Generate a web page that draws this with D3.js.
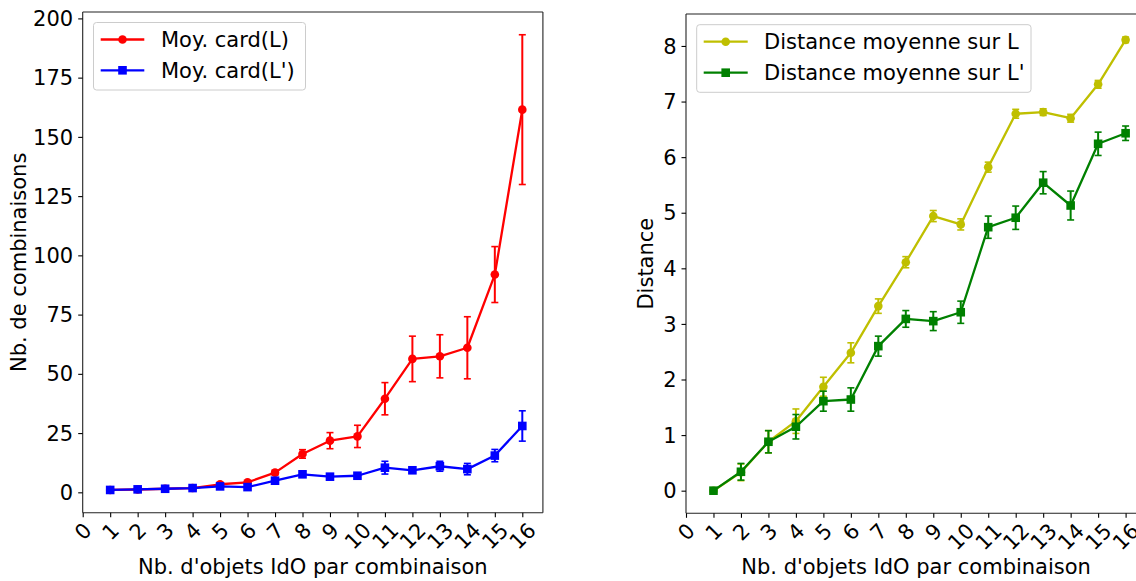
<!DOCTYPE html>
<html><head><meta charset="utf-8">
<script src="https://cdn.jsdelivr.net/npm/d3@7"></script>
<style>
body{margin:0;background:#fff;}
svg{display:block;}
text{font-family:"DejaVu Sans",sans-serif;fill:#000;}
</style></head>
<body>
<svg id="c" width="1136" height="581"></svg>
<script>
// ---- data ----
const xValues = [1,2,3,4,5,6,7,8,9,10,11,12,13,14,15,16];
const xTicks = [0,1,2,3,4,5,6,7,8,9,10,11,12,13,14,15,16];

const cardL     = [1.0,1.2,1.5,1.8,3.4,4.2,8.3,16.2,21.8,23.6,39.5,56.3,57.4,61.0,91.9,161.5];
const cardLErr  = [0.2,0.2,0.3,0.3,0.4,0.5,1.0,1.8,3.4,4.7,6.8,9.6,9.1,13.1,11.8,31.6];
const cardLp    = [1.0,1.25,1.5,1.8,2.5,2.2,4.9,7.6,6.6,7.0,10.4,9.3,11.0,9.8,15.5,28.0];
const cardLpErr = [0.2,0.2,0.2,0.3,0.5,0.4,0.8,1.0,0.9,0.9,2.7,1.0,2.1,2.4,2.6,6.4];
const leftYTicks = [0,25,50,75,100,125,150,175,200];

const distL     = [0.0,0.33,0.88,1.25,1.87,2.48,3.32,4.11,4.94,4.79,5.82,6.78,6.81,6.70,7.31,8.11];
const distLErr  = [0.0,0.15,0.2,0.22,0.17,0.18,0.13,0.1,0.1,0.1,0.09,0.08,0.06,0.07,0.07,0.05];
const distLp    = [0.0,0.34,0.88,1.15,1.61,1.64,2.60,3.09,3.05,3.21,4.74,4.91,5.54,5.13,6.24,6.43];
const distLpErr = [0.0,0.15,0.2,0.22,0.18,0.21,0.18,0.15,0.17,0.2,0.2,0.21,0.2,0.26,0.21,0.13];
const rightYTicks = [0,1,2,3,4,5,6,7,8];

const xLabel = "Nb. d'objets IdO par combinaison";
const FS = 21;

const svg = d3.select("#c");
svg.append("rect").attr("width",1136).attr("height",581).attr("fill","#fff");

function panel(cfg){
  const g = svg.append("g");
  const x = d3.scaleLinear().domain([0,16.75]).range([cfg.left, cfg.left + 16.75*27.475]);
  const y = d3.scaleLinear().domain(cfg.yDomain).range([cfg.bottom, cfg.top]);
  const right = x(16.75);

  // series
  cfg.series.forEach(s=>{
    const sg = g.append("g");
    const pts = xValues.map((xv,i)=>({x:xv,v:s.values[i],e:s.err[i]}));
    pts.forEach(p=>{
      if(p.e<=0) return;
      sg.append("line").attr("x1",x(p.x)).attr("x2",x(p.x)).attr("y1",y(p.v-p.e)).attr("y2",y(p.v+p.e))
        .attr("stroke",s.color).attr("stroke-width",2);
      [p.v-p.e,p.v+p.e].forEach(yy=>{
        sg.append("line").attr("x1",x(p.x)-3.5).attr("x2",x(p.x)+3.5).attr("y1",y(yy)).attr("y2",y(yy))
          .attr("stroke",s.color).attr("stroke-width",1.6);
      });
    });
    sg.append("path").datum(pts)
      .attr("d",d3.line().x(p=>x(p.x)).y(p=>y(p.v)))
      .attr("fill","none").attr("stroke",s.color).attr("stroke-width",2.3).attr("stroke-linejoin","round");
    pts.forEach(p=>drawMarker(sg,s.marker,x(p.x),y(p.v),s.color));
  });

  // frame
  const fr = [[cfg.left,cfg.top,cfg.left,cfg.bottom],[right,cfg.top,right,cfg.bottom],
              [cfg.left,cfg.top,right,cfg.top],[cfg.left,cfg.bottom,right,cfg.bottom]];
  fr.forEach(f=>g.append("line").attr("x1",f[0]).attr("y1",f[1]).attr("x2",f[2]).attr("y2",f[3])
    .attr("stroke","#222").attr("stroke-width",1.1));

  // y axis
  const ya = g.append("g").attr("transform",`translate(${cfg.left},0)`)
    .call(d3.axisLeft(y).tickValues(cfg.yTicks).tickSize(4.5).tickPadding(5).tickFormat(d3.format("d")));
  ya.select(".domain").remove();
  ya.selectAll("line").attr("stroke","#000").attr("stroke-width",1.1);
  ya.selectAll("text").attr("font-size",FS).attr("font-family","DejaVu Sans").attr("dy","0.34em");

  // x axis
  const xa = g.append("g").attr("transform",`translate(0,${cfg.bottom})`)
    .call(d3.axisBottom(x).tickValues(xTicks).tickSize(4.5).tickFormat(d3.format("d")));
  xa.select(".domain").remove();
  xa.selectAll("line").attr("stroke","#000").attr("stroke-width",1.1);
  xa.selectAll("text").each(function(d){
    const t = d3.select(this);
    t.attr("font-size",FS).attr("font-family","DejaVu Sans").attr("y",null).attr("dy",null)
     .attr("text-anchor","middle").attr("dominant-baseline","central");
    const w = this.getComputedTextLength();
    const cy = 7 + (w+20)*0.3535;
    t.attr("transform",`translate(0,${cy}) rotate(-45)`);
  });

  // labels
  g.append("text").attr("x",cfg.left+16.75*27.475/2).attr("y",574)
    .attr("text-anchor","middle").attr("font-size",FS).text(xLabel);
  g.append("text").attr("transform",`translate(${cfg.ylabelX},${(cfg.top+cfg.bottom)/2}) rotate(-90)`)
    .attr("text-anchor","middle").attr("font-size",FS).text(cfg.ylabel);

  // legend
  const L = cfg.legend;
  g.append("rect").attr("x",L.x).attr("y",L.y).attr("width",L.w).attr("height",L.h).attr("rx",3)
    .attr("fill","#fff").attr("fill-opacity",0.8).attr("stroke","#ccc").attr("stroke-width",1);
  cfg.series.forEach((s,i)=>{
    const yy = L.rows[i];
    g.append("line").attr("x1",L.lx1).attr("x2",L.lx2).attr("y1",yy).attr("y2",yy)
      .attr("stroke",s.color).attr("stroke-width",2.3);
    drawMarker(g,s.marker,(L.lx1+L.lx2)/2,yy,s.color);
    g.append("text").attr("x",L.tx).attr("y",yy).attr("dy","0.35em").attr("font-size",FS).text(s.name);
  });
}

function drawMarker(sel,type,cx,cy,color){
  if(type==="o") sel.append("circle").attr("cx",cx).attr("cy",cy).attr("r",4.3).attr("fill",color);
  else sel.append("rect").attr("x",cx-4.3).attr("y",cy-4.3).attr("width",8.6).attr("height",8.6).attr("fill",color);
}

panel({
  left:82.7, top:12, bottom:512.7, yDomain:[-8.6,202.7], yTicks:leftYTicks,
  ylabel:"Nb. de combinaisons", ylabelX:25.5,
  series:[
    {name:"Moy. card(L)", values:cardL, err:cardLErr, color:"#ff0000", marker:"o"},
    {name:"Moy. card(L')", values:cardLp, err:cardLpErr, color:"#0000ff", marker:"s"}
  ],
  legend:{x:93.5,y:22.5,w:212,h:67.5,rows:[39.5,70.3],lx1:100.7,lx2:144.3,tx:161}
});
panel({
  left:686, top:14, bottom:513.3, yDomain:[-0.407,8.575], yTicks:rightYTicks,
  ylabel:"Distance", ylabelX:653.3,
  series:[
    {name:"Distance moyenne sur L", values:distL, err:distLErr, color:"#bfbf00", marker:"o"},
    {name:"Distance moyenne sur L'", values:distLp, err:distLpErr, color:"#008000", marker:"s"}
  ],
  legend:{x:696.7,y:24.7,w:334.3,h:67.6,rows:[41.7,72.7],lx1:703.7,lx2:747.7,tx:764}
});
</script>
</body></html>
